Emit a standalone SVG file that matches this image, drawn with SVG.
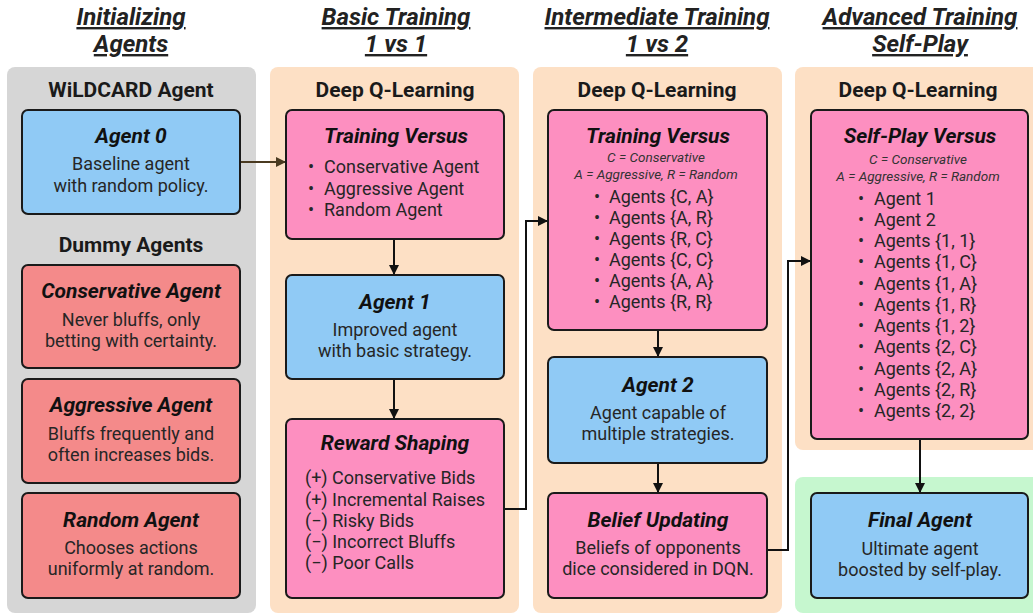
<svg xmlns="http://www.w3.org/2000/svg" width="1033" height="615" viewBox="0 0 1033 615">
  <defs>
    <marker id="arrow" viewBox="0 0 10 10" refX="10" refY="5" markerWidth="10" markerHeight="10" markerUnits="userSpaceOnUse" orient="auto">
      <path d="M0,0 L10,5 L0,10 Z" fill="#111"/>
    </marker>
    <marker id="arrow-brown" viewBox="0 0 10 10" refX="10" refY="5" markerWidth="10" markerHeight="10" markerUnits="userSpaceOnUse" orient="auto">
      <path d="M0,0 L10,5 L0,10 Z" fill="#4a3a20"/>
    </marker>
    <style>
      .stage { font-family: Roboto, "Liberation Sans", sans-serif; font-size: 24px; font-weight: 700; font-style: italic; fill: #222; text-decoration: underline; text-anchor: middle; }
      .panel-title { font-family: Roboto, "Liberation Sans", sans-serif; font-size: 21px; font-weight: 700; fill: #1a1a1a; text-anchor: middle; }
      .title { font-family: Roboto, "Liberation Sans", sans-serif; font-size: 21px; font-weight: 700; font-style: italic; fill: #111; text-anchor: middle; }
      .body { font-family: Roboto, "Liberation Sans", sans-serif; font-size: 18px; fill: #262626; text-anchor: middle; }
      .item { font-family: Roboto, "Liberation Sans", sans-serif; font-size: 18px; fill: #262626; }
      .note { font-family: Roboto, "Liberation Sans", sans-serif; font-size: 13.5px; font-style: italic; fill: #333; text-anchor: middle; }
      .box { stroke: #1a1a1a; stroke-width: 2; }
      .blue { fill: #90caf5; }
      .red { fill: #f48a8a; }
      .pink { fill: #fd8fc0; }
      .grey-panel { fill: #d6d6d6; }
      .peach-panel { fill: #fde0c5; }
      .green-panel { fill: #c6f7cf; }
      .wire { fill: none; stroke: #111; stroke-width: 2; }
    </style>
  </defs>

  <rect width="1033" height="615" fill="#ffffff"/>

  <!-- stage headings -->
  <g id="headings">
    <text class="stage" x="131" y="25">Initializing</text>
    <text class="stage" x="131" y="52">Agents</text>
    <text class="stage" x="396" y="25">Basic Training</text>
    <text class="stage" x="396" y="52">1 vs 1</text>
    <text class="stage" x="657" y="25">Intermediate Training</text>
    <text class="stage" x="657" y="52">1 vs 2</text>
    <text class="stage" x="920" y="25">Advanced Training</text>
    <text class="stage" x="920" y="52">Self-Play</text>
  </g>

  <!-- background panels -->
  <g id="panels">
    <rect class="grey-panel" x="7" y="67" width="249" height="546" rx="8"/>
    <rect class="peach-panel" x="270" y="67" width="249" height="546" rx="8"/>
    <rect class="peach-panel" x="533" y="67" width="249" height="546" rx="8"/>
    <rect class="peach-panel" x="795" y="67" width="250" height="383" rx="8"/>
    <rect class="green-panel" x="795" y="477" width="250" height="136" rx="8"/>
    <text class="panel-title" x="131" y="97">WiLDCARD Agent</text>
    <text class="panel-title" x="131" y="252">Dummy Agents</text>
    <text class="panel-title" x="395" y="97">Deep Q-Learning</text>
    <text class="panel-title" x="657" y="97">Deep Q-Learning</text>
    <text class="panel-title" x="918" y="97">Deep Q-Learning</text>
  </g>

  <!-- connectors -->
  <g id="connectors">
    <line x1="240" y1="162" x2="286" y2="162" stroke="#4a3a20" stroke-width="2" marker-end="url(#arrow-brown)"/>
    <line class="wire" x1="394" y1="239" x2="394" y2="275" marker-end="url(#arrow)"/>
    <line class="wire" x1="394" y1="379" x2="394" y2="419" marker-end="url(#arrow)"/>
    <path class="wire" d="M504,509 H526 V221 H548" marker-end="url(#arrow)"/>
    <line class="wire" x1="658" y1="330" x2="658" y2="357" marker-end="url(#arrow)"/>
    <line class="wire" x1="658" y1="463" x2="658" y2="493" marker-end="url(#arrow)"/>
    <path class="wire" d="M767,550 H788 V261 H811" marker-end="url(#arrow)"/>
    <line class="wire" x1="920" y1="439" x2="920" y2="493" marker-end="url(#arrow)"/>
  </g>

  <!-- initial agents -->
  <g id="agent-0">
    <rect class="box blue" x="22" y="110" width="218" height="104" rx="6"/>
    <text class="title" x="131" y="143">Agent 0</text>
    <text class="body" x="131" y="170">Baseline agent</text>
    <text class="body" x="131" y="192">with random policy.</text>
  </g>
  <g id="conservative-agent">
    <rect class="box red" x="22" y="265" width="218" height="103" rx="6"/>
    <text class="title" x="131" y="298">Conservative Agent</text>
    <text class="body" x="131" y="326">Never bluffs, only</text>
    <text class="body" x="131" y="347">betting with certainty.</text>
  </g>
  <g id="aggressive-agent">
    <rect class="box red" x="22" y="379" width="218" height="104" rx="6"/>
    <text class="title" x="131" y="412">Aggressive Agent</text>
    <text class="body" x="131" y="440">Bluffs frequently and</text>
    <text class="body" x="131" y="461">often increases bids.</text>
  </g>
  <g id="random-agent">
    <rect class="box red" x="22" y="493" width="218" height="105" rx="6"/>
    <text class="title" x="131" y="527">Random Agent</text>
    <text class="body" x="131" y="554">Chooses actions</text>
    <text class="body" x="131" y="575">uniformly at random.</text>
  </g>

  <!-- basic training -->
  <g id="training-versus-1v1">
    <rect class="box pink" x="286" y="110" width="218" height="129" rx="6"/>
    <text class="title" x="396" y="143">Training Versus</text>
    <text class="item" x="308" y="173">•</text>
    <text class="item" x="324" y="173">Conservative Agent</text>
    <text class="item" x="308" y="195">•</text>
    <text class="item" x="324" y="195">Aggressive Agent</text>
    <text class="item" x="308" y="216">•</text>
    <text class="item" x="324" y="216">Random Agent</text>
  </g>
  <g id="agent-1">
    <rect class="box blue" x="286" y="275" width="218" height="104" rx="6"/>
    <text class="title" x="395" y="309">Agent 1</text>
    <text class="body" x="395" y="336">Improved agent</text>
    <text class="body" x="395" y="357">with basic strategy.</text>
  </g>
  <g id="reward-shaping">
    <rect class="box pink" x="286" y="419" width="218" height="179" rx="6"/>
    <text class="title" x="395" y="450">Reward Shaping</text>
    <text class="item" x="305" y="484">(+) Conservative Bids</text>
    <text class="item" x="305" y="506">(+) Incremental Raises</text>
    <text class="item" x="305" y="527">(−) Risky Bids</text>
    <text class="item" x="305" y="548">(−) Incorrect Bluffs</text>
    <text class="item" x="305" y="569">(−) Poor Calls</text>
  </g>

  <!-- intermediate training -->
  <g id="training-versus-1v2">
    <rect class="box pink" x="548" y="110" width="219" height="220" rx="6"/>
    <text class="title" x="658" y="143">Training Versus</text>
    <text class="note" x="656" y="162">C = Conservative</text>
    <text class="note" x="656" y="179">A = Aggressive, R = Random</text>
    <text class="item" x="594" y="203">•</text>
    <text class="item" x="609" y="203">Agents {C, A}</text>
    <text class="item" x="594" y="224">•</text>
    <text class="item" x="609" y="224">Agents {A, R}</text>
    <text class="item" x="594" y="245">•</text>
    <text class="item" x="609" y="245">Agents {R, C}</text>
    <text class="item" x="594" y="266">•</text>
    <text class="item" x="609" y="266">Agents {C, C}</text>
    <text class="item" x="594" y="287">•</text>
    <text class="item" x="609" y="287">Agents {A, A}</text>
    <text class="item" x="594" y="308">•</text>
    <text class="item" x="609" y="308">Agents {R, R}</text>
  </g>
  <g id="agent-2">
    <rect class="box blue" x="548" y="357" width="219" height="106" rx="6"/>
    <text class="title" x="658" y="392">Agent 2</text>
    <text class="body" x="658" y="419">Agent capable of</text>
    <text class="body" x="658" y="440">multiple strategies.</text>
  </g>
  <g id="belief-updating">
    <rect class="box pink" x="548" y="493" width="219" height="105" rx="6"/>
    <text class="title" x="658" y="527">Belief Updating</text>
    <text class="body" x="658" y="554">Beliefs of opponents</text>
    <text class="body" x="658" y="575">dice considered in DQN.</text>
  </g>

  <!-- advanced training -->
  <g id="self-play-versus">
    <rect class="box pink" x="811" y="110" width="217" height="329" rx="6"/>
    <text class="title" x="920" y="143">Self-Play Versus</text>
    <text class="note" x="918" y="164">C = Conservative</text>
    <text class="note" x="918" y="181">A = Aggressive, R = Random</text>
    <text class="item" x="858" y="205">•</text>
    <text class="item" x="874" y="205">Agent 1</text>
    <text class="item" x="858" y="226">•</text>
    <text class="item" x="874" y="226">Agent 2</text>
    <text class="item" x="858" y="247">•</text>
    <text class="item" x="874" y="247">Agents {1, 1}</text>
    <text class="item" x="858" y="268">•</text>
    <text class="item" x="874" y="268">Agents {1, C}</text>
    <text class="item" x="858" y="290">•</text>
    <text class="item" x="874" y="290">Agents {1, A}</text>
    <text class="item" x="858" y="311">•</text>
    <text class="item" x="874" y="311">Agents {1, R}</text>
    <text class="item" x="858" y="332">•</text>
    <text class="item" x="874" y="332">Agents {1, 2}</text>
    <text class="item" x="858" y="353">•</text>
    <text class="item" x="874" y="353">Agents {2, C}</text>
    <text class="item" x="858" y="375">•</text>
    <text class="item" x="874" y="375">Agents {2, A}</text>
    <text class="item" x="858" y="396">•</text>
    <text class="item" x="874" y="396">Agents {2, R}</text>
    <text class="item" x="858" y="417">•</text>
    <text class="item" x="874" y="417">Agents {2, 2}</text>
  </g>
  <g id="final-agent">
    <rect class="box blue" x="811" y="493" width="217" height="105" rx="6"/>
    <text class="title" x="920" y="527">Final Agent</text>
    <text class="body" x="920" y="555">Ultimate agent</text>
    <text class="body" x="920" y="576">boosted by self-play.</text>
  </g>
</svg>
